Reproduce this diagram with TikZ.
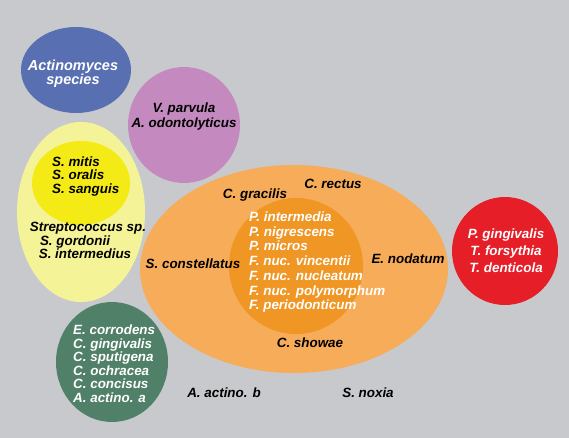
\documentclass[tikz,border=0pt]{standalone}
\usepackage{fontspec}
\setmainfont{Liberation Sans}

\definecolor{bgGray}{RGB}{200,201,204}
\definecolor{actBlue}{RGB}{88,112,178}
\definecolor{vPurple}{RGB}{196,138,192}
\definecolor{paleYellow}{RGB}{245,243,152}
\definecolor{strYellow}{RGB}{244,234,22}
\definecolor{paleOrange}{RGB}{246,172,88}
\definecolor{deepOrange}{RGB}{240,150,36}
\definecolor{redC}{RGB}{230,30,40}
\definecolor{greenC}{RGB}{80,128,104}

\begin{document}
\begin{tikzpicture}[x=1pt, y=-1pt,
    species/.style={font=\fontsize{13.4}{14}\selectfont\bfseries\itshape, inner sep=0pt},
    light/.style={species, text=white}]
    \fill[bgGray] (0,0) rectangle (569,438);
    % complexes
    \fill[actBlue] (76,70) ellipse [x radius=55, y radius=43];
    \fill[vPurple] (184,125) ellipse [x radius=56, y radius=58];
    \fill[paleYellow] (81,212) ellipse [x radius=64, y radius=90];
    \fill[strYellow] (81,183) ellipse [x radius=49, y radius=42];
    \fill[greenC] (112,362) ellipse [x radius=56, y radius=60];
    \fill[paleOrange] (294,269) ellipse [x radius=154, y radius=104];
    \fill[deepOrange] (296,266) ellipse [x radius=67, y radius=68];
    \fill[redC] (505,251) ellipse [x radius=53, y radius=54];
    % blue and purple
    \node[light, font=\fontsize{14.5}{15}\selectfont\bfseries\itshape, anchor=base] (actA) at (73,71) {Actinomyces};
    \node[light, font=\fontsize{14.5}{15}\selectfont\bfseries\itshape, anchor=base] (actB) at (73,85) {species};
    \node[species, anchor=base] (vpar) at (184,113) {V. parvula};
    \node[species, anchor=base] (aodo) at (184,127.5) {A. odontolyticus};
    % yellow
    \foreach \t [count=\i] in {S. mitis, S. oralis, S. sanguis}
        \node[species, anchor=base west] (yel\i) at (52,153+13.5*\i) {\t};
    \node[species, anchor=base] (strep) at (88,231.5) {Streptococcus sp.};
    \node[species, anchor=base] (sgor) at (75,245.5) {S. gordonii};
    \node[species, anchor=base] (sint) at (85,258.5) {S. intermedius};
    % orange
    \node[species, anchor=base] (cgra) at (255,198.5) {C. gracilis};
    \node[species, anchor=base] (crec) at (333,188.5) {C. rectus};
    \node[species, anchor=base] (scon) at (193,268.5) {S. constellatus};
    \node[species, anchor=base] (enod) at (408,263.5) {E. nodatum};
    \node[species, anchor=base] (csho) at (310,347.5) {C. showae};
    \foreach \t [count=\i] in {P. intermedia, P. nigrescens, P. micros,
        F. nuc. vincentii, F. nuc. nucleatum, F. nuc. polymorphum, F. periodonticum}
        \node[light, anchor=base west] (inner\i) at (249,206.8+14.7*\i) {\t};
    % red
    \foreach \t [count=\i] in {P. gingivalis, T. forsythia, T. denticola}
        \node[light, anchor=base] (red\i) at (506,221.5+17*\i) {\t};
    % green
    \foreach \t [count=\i] in {E. corrodens, C. gingivalis, C. sputigena,
        C. ochracea, C. concisus, A. actino. a}
        \node[light, anchor=base west] (grn\i) at (73,320.9+13.6*\i) {\t};
    % loose
    \node[species, anchor=base] (aactb) at (224,397.5) {A. actino. b};
    \node[species, anchor=base] (snox) at (368,397.5) {S. noxia};
\end{tikzpicture}
\end{document}
